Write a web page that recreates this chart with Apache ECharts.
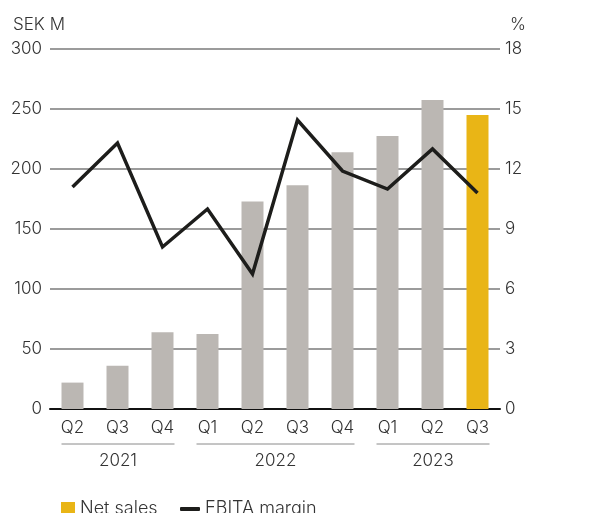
<!DOCTYPE html>
<html><head><meta charset="utf-8">
<script src="https://cdn.jsdelivr.net/npm/echarts@6/dist/echarts.min.js"></script>
<style>html,body{margin:0;padding:0;background:#fff}#c{width:611px;height:513px}</style>
</head><body><div id="c"></div>
<script>
const quarters = ['Q2','Q3','Q4','Q1','Q2','Q3','Q4','Q1','Q2','Q3'];
const netSales = [22, 36, 64, 62.5, 173, 186.5, 214, 227.5, 257.5, 245];
const ebitaMargin = [11.1, 13.3, 8.1, 10.0, 6.75, 14.45, 11.9, 11.0, 13.0, 10.8];
const years = [
  {label:'2021', from:0, to:2},
  {label:'2022', from:3, to:6},
  {label:'2023', from:7, to:9}
];
const leftTicks = [0,300,50];
const rightTicks = [0,18,3];

const FONT = 'Inter, "Noto Sans", sans-serif';
const FW = 300;
const TXT = '#333333';
const GRAY = '#bbb7b3', YELLOW = '#e9b516', LINE = '#1d1d1b';

const chart = echarts.init(document.getElementById('c'));
const barData = netSales.map((v,i)=> i === netSales.length-1 ? v : {value:v, itemStyle:{color:GRAY}});
chart.setOption({
  animation:false,
  textStyle:{fontFamily:FONT, fontWeight:FW},
  grid:{left:50, right:111, top:49, bottom:104, containLabel:false, outerBoundsMode:'none'},
  legend:[
    {left:56, top:495, itemWidth:14, itemHeight:14, itemGap:10,
     data:[{name:'Net sales', icon:'rect'}],
     textStyle:{fontSize:18, color:TXT, fontFamily:FONT, fontWeight:FW}},
    {left:175, top:495, itemWidth:20, itemHeight:4,
     data:[{name:'EBITA margin', icon:'roundRect'}],
     textStyle:{fontSize:18, color:TXT, fontFamily:FONT, fontWeight:FW}}
  ],
  xAxis:{type:'category', data:quarters,
    axisLine:{lineStyle:{color:'#111', width:2}},
    axisTick:{show:false},
    axisLabel:{color:TXT, fontSize:17, margin:10, fontFamily:FONT, fontWeight:FW}},
  yAxis:[
    {type:'value', min:leftTicks[0], max:leftTicks[1], interval:leftTicks[2],
     name:'SEK M', nameLocation:'end', nameGap:16,
     nameTextStyle:{color:TXT, fontSize:17, align:'left', padding:[0,0,0,-37], fontFamily:FONT, fontWeight:FW},
     axisLine:{show:false}, axisTick:{show:false},
     axisLabel:{color:TXT, fontSize:17, margin:8, fontFamily:FONT, fontWeight:FW},
     splitLine:{lineStyle:{color:'#7a7a7a', width:1.5}}},
    {type:'value', min:rightTicks[0], max:rightTicks[1], interval:rightTicks[2],
     name:'%', nameLocation:'end', nameGap:16,
     nameTextStyle:{color:TXT, fontSize:17, align:'left', padding:[0,0,0,10], fontFamily:FONT, fontWeight:FW},
     axisLine:{show:false}, axisTick:{show:false},
     axisLabel:{color:TXT, fontSize:17, margin:5, fontFamily:FONT, fontWeight:FW},
     splitLine:{show:false}}
  ],
  series:[
    {name:'Net sales', type:'bar', data:barData, barWidth:22, itemStyle:{color:YELLOW}, z:2},
    {name:'EBITA margin', type:'line', yAxisIndex:1, data:ebitaMargin, showSymbol:false, symbol:'none',
     lineStyle:{color:LINE, width:3.5, join:'miter'}, itemStyle:{color:LINE}, z:3}
  ]
});

const graphics = [];
years.forEach(y=>{
  const x1 = chart.convertToPixel({xAxisIndex:0}, y.from) - 11;
  const x2 = chart.convertToPixel({xAxisIndex:0}, y.to) + 12;
  const lineY = 444;
  graphics.push({type:'line', shape:{x1:x1, y1:lineY, x2:x2, y2:lineY}, style:{stroke:'#8a8a8a', lineWidth:1}});
  graphics.push({type:'text', x:(x1+x2)/2, y:461, style:{text:y.label, fill:TXT, font:FW+' 17px '+FONT, align:'center', verticalAlign:'middle'}});
});
chart.setOption({graphic:graphics});
</script></body></html>
